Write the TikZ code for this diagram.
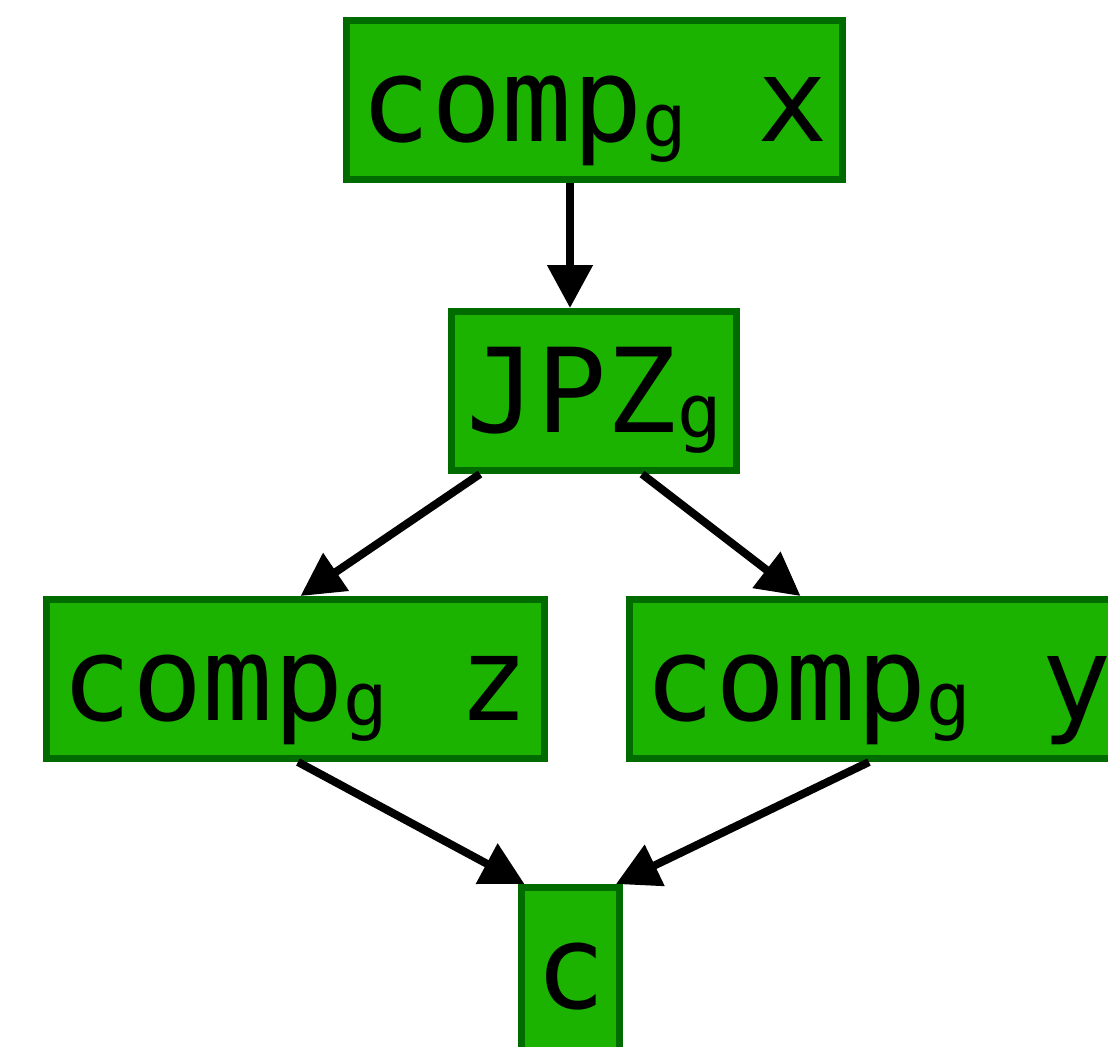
\documentclass[tikz,border=0pt]{standalone}
\usepackage{fontspec}
\setmonofont{DejaVu Sans Mono}
\usetikzlibrary{arrows.meta, calc}

\definecolor{blockfill}{HTML}{1CB200}
\definecolor{blockline}{HTML}{006C00}
\newcommand{\gsub}[1]{\raisebox{-2.5pt}{\fontsize{37pt}{37pt}\selectfont #1}}

\begin{document}
\begin{tikzpicture}[x=0.5pt, y=-0.5pt, >={Triangle[length=21.5pt,width=22pt]},
        block/.style={draw=blockline, fill=blockfill, line width=3.5pt, inner sep=0pt,
            minimum height=79.5pt, text height=54pt, text depth=13pt,
            font=\ttfamily\fontsize{58.5pt}{58.5pt}\selectfont},
        link/.style={->, line width=4pt}]

  \clip (0,0) rectangle (1108,1046);

  \node[block, minimum width=248pt]   (comp_x) at (594.5,100) {comp\gsub{g} x};
  \node[block, minimum width=142.5pt] (jpz)    at (594,391)   {JPZ\gsub{g}};
  \node[block, minimum width=249pt]   (comp_z) at (295.5,679) {comp\gsub{g} z};
  \node[block, minimum width=249pt]   (comp_y) at (878.5,679) {comp\gsub{g} y};
  % runs off the bottom edge
  \node[block, minimum width=49pt, minimum height=95pt, text depth=28.5pt]
                                      (c)      at (570.5,982.5) {c};

  \draw[link] ($(comp_x.south)+(-24.5,0)$) -- ($(jpz.north)+(-24,0)$);
  \draw[link] ($(jpz.south)+(-114,0)$)     -- ($(comp_z.north)+(5,0)$);
  \draw[link] ($(jpz.south)+(48,0)$)       -- ($(comp_y.north)+(-78,0)$);
  \draw[link] ($(comp_z.south)+(2.5,0)$)   -- ($(c.north)+(-46,0)$);
  \draw[link] ($(comp_y.south)+(-9.5,0)$)  -- ($(c.north)+(45.5,0)$);
\end{tikzpicture}
\end{document}
